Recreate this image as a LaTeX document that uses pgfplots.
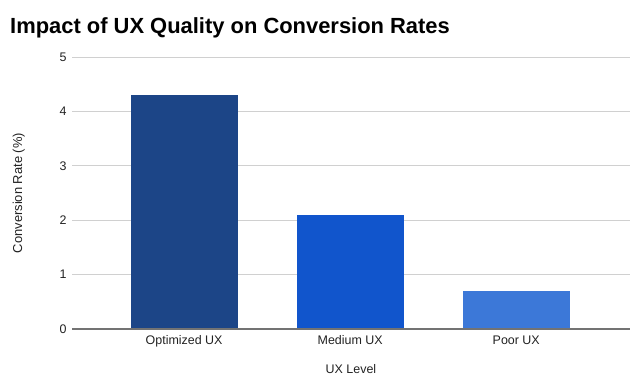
\documentclass[border=0pt]{standalone}
\usepackage{pgfplots}
\pgfplotsset{compat=1.18}
\usepackage{fontspec}
\setmainfont{Liberation Sans}
\definecolor{b1}{HTML}{1C4587}
\definecolor{b2}{HTML}{1155CC}
\definecolor{b3}{HTML}{3C78D8}
\definecolor{gridc}{HTML}{D0D0D0}
\definecolor{txt}{HTML}{222222}
\begin{document}
\begin{tikzpicture}[x=1bp,y=1bp]
\begin{axis}[
  scale only axis, width=558bp, height=272bp,
  ybar, bar width=0.645, bar shift=0,
  xmin=-0.675, xmax=2.685, ymin=0, ymax=5,
  ytick={0,1,2,3,4,5},
  xtick={0,1,2}, xticklabels={Optimized UX,Medium UX,Poor UX},
  xmajorgrids=false, ymajorgrids=true, grid style={draw=gridc, line width=0.8bp},
  axis line style={draw=none},
  major tick length=0,
  tick label style={font=\fontsize{12.5}{14}\selectfont, text=txt},
  yticklabel style={xshift=-2bp},
  xticklabel style={yshift=-3bp},
  /pgf/number format/assume math mode=true,
  xlabel={UX Level}, xlabel style={font=\fontsize{12.5}{14}\selectfont, text=txt, yshift=-11bp},
  ylabel={Conversion Rate (\%)}, ylabel style={font=\fontsize{13}{14}\selectfont, text=txt, yshift=28bp},
  clip=false,
]
\addplot[fill=b1, draw=none] coordinates {(0,4.3)};
\addplot[fill=b2, draw=none] coordinates {(1,2.1)};
\addplot[fill=b3, draw=none] coordinates {(2,0.7)};
\draw[color=gray!90!black, line width=1.2bp] (rel axis cs:0,0) -- (rel axis cs:1,0);
\coordinate (O) at (rel axis cs:0,0);
\end{axis}
\pgfresetboundingbox
\path (O) ++(-72,-50) coordinate (BL);
\useasboundingbox (BL) rectangle ++(638,379);
\node[anchor=base west, inner sep=0, font=\bfseries\fontsize{22}{24}\selectfont] at ([shift={(10,346)}]BL) {Impact of UX Quality on Conversion Rates};
\end{tikzpicture}
\end{document}
